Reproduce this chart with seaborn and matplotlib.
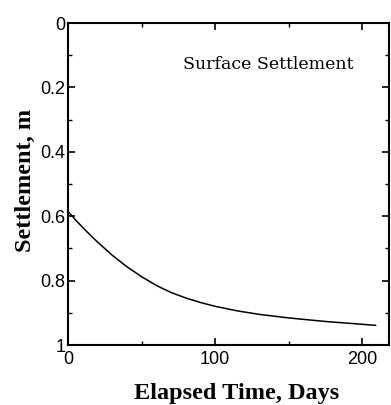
import matplotlib
matplotlib.use("Agg")
import matplotlib.pyplot as plt
from matplotlib.ticker import MultipleLocator, FixedLocator
import seaborn as sns
import pandas as pd

days = [0, 5, 10, 15, 20, 30, 40, 50, 60, 70, 80, 90, 100, 115, 130, 150, 175, 195, 209]
settlement = [0.585, 0.611, 0.635, 0.658, 0.680, 0.721, 0.757, 0.788, 0.815, 0.837,
              0.854, 0.868, 0.880, 0.894, 0.905, 0.916, 0.927, 0.934, 0.939]
x_ticks = [0, 100, 200]
y_ticks = [0, 0.2, 0.4, 0.6, 0.8, 1.0]
y_tick_labels = ["0", "0.2", "0.4", "0.6", "0.8", "1"]

sns.set_style("ticks")
plt.rcParams["font.family"] = ["Liberation Sans", "DejaVu Sans"]
plt.rcParams["text.color"] = "black"
plt.rcParams["axes.labelcolor"] = "black"
plt.rcParams["xtick.color"] = "black"
plt.rcParams["ytick.color"] = "black"

df = pd.DataFrame({"Elapsed Time, Days": days, "Settlement, m": settlement})

fig = plt.figure(figsize=(3.91, 4.05), dpi=100)
ax = fig.add_axes([68 / 391, 1 - 345 / 405, (389 - 68) / 391, (345 - 23) / 405])

sns.lineplot(data=df, x="Elapsed Time, Days", y="Settlement, m", ax=ax,
             color="black", linewidth=1.1)

ax.set_xlim(0, 218)
ax.set_ylim(1.0, 0.0)
ax.xaxis.set_major_locator(FixedLocator(x_ticks))
ax.xaxis.set_minor_locator(MultipleLocator(50))
ax.yaxis.set_major_locator(FixedLocator(y_ticks))
ax.yaxis.set_minor_locator(MultipleLocator(0.1))
ax.set_xticklabels([str(v) for v in x_ticks])
ax.set_yticklabels(y_tick_labels)

ax.tick_params(which="both", direction="in", top=True, right=True,
               color="black", labelcolor="black")
ax.tick_params(which="major", length=5, width=1.2, labelsize=13, pad=2)
ax.tick_params(axis="x", which="major", pad=4)
ax.tick_params(which="minor", length=3, width=1.0)

for s in ax.spines.values():
    s.set_visible(True)
    s.set_color("black")
    s.set_linewidth(1.5)

serif = ["Liberation Serif", "DejaVu Serif"]
ax.set_xlabel("Elapsed Time, Days", fontsize=17.5, fontweight="bold",
              family=serif, color="black")
ax.set_ylabel("Settlement, m", fontsize=17.5, fontweight="bold",
              family=serif, color="black")
ax.xaxis.set_label_coords((237 - 68) / 321, -0.118)
ax.yaxis.set_label_coords(-0.10, (345 - 180) / 322)

ax.text(0.89, 0.87, "Surface Settlement", transform=ax.transAxes,
        ha="right", va="center", fontsize=12.5,
        family=["DejaVu Serif"], color="black")

fig.savefig("out.png", dpi=100)
